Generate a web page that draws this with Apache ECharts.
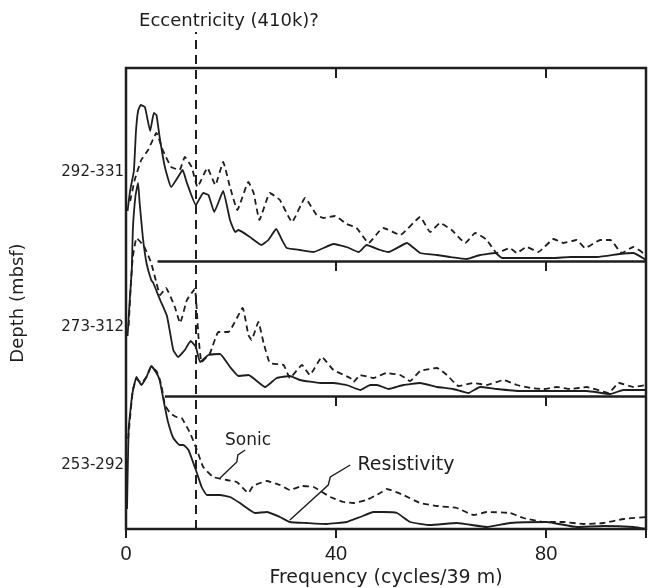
<!DOCTYPE html>
<html>
<head>
<meta charset="utf-8">
<script src="https://cdn.jsdelivr.net/npm/echarts@6/dist/echarts.min.js"></script>
<style>
html,body{margin:0;padding:0;background:#fff;}
#chart{width:648px;height:588px;}
</style>
</head>
<body>
<div id="chart"></div>
<script>
// ---- Data (frequency in cycles/39 m, relative spectral power) ----
const panelLabels = ['292-331', '273-312', '253-292'];
const xTicks = [0, 40, 80];
const eccentricityFreq = 13.3;

// Top panel 292-331
const resistivityTop = [[0.3,50],[0.8,71],[1.5,90],[1.9,130],[2.3,150],[2.8,156],[3.6,154],[4.6,130],[5.3,148],[5.8,146],[6.4,124],[7.4,94],[8.6,74],[10.5,89],[10.8,91],[11.6,78],[13.3,56],[14.7,68],[15.7,66],[16.8,49],[18.5,70],[19.8,41],[20.8,29],[21.4,31],[23.6,24],[25.8,16],[27.1,21],[28.6,32],[29.7,21],[30.6,13],[33.1,11],[35.7,9],[39.5,17],[42,14],[44.3,9],[45.8,16],[48.4,11],[50,9],[53.5,18],[56,8],[59.2,6],[61.7,4],[64.9,2],[67.4,6],[70.3,8],[71.6,3],[75,3],[81.4,3],[84.6,4],[89.7,4],[94,7],[96.6,8],[99,1]];
const sonicTop = [[0.8,60],[1.65,81],[2.9,101],[4.2,111],[5.8,128],[7,111],[8.6,94],[10.2,91],[11.2,104],[12.5,94],[13.6,74],[15.5,93],[17,76],[18.5,99],[19.8,74],[21.2,51],[23.3,79],[24.3,68],[25.4,41],[27.4,68],[29.3,61],[31.6,39],[34.1,63],[36.3,46],[37.6,43],[39.8,45],[42,37],[43.9,33],[46.2,18],[48.4,31],[49,33],[52.2,26],[56,44],[57.9,29],[59.8,38],[62,31],[64.6,18],[66.5,28],[68.7,21],[70.6,8],[73.1,13],[74.4,8],[76.3,14],[78.5,9],[81.4,22],[83.3,18],[85.8,21],[87.4,13],[90.3,21],[92.2,21],[94.4,8],[96.6,14],[99,6]];

// Middle panel 273-312
const resistivityMid = [[0.3,60],[0.7,95],[1.1,126],[1.3,166],[1.8,200],[2.3,213],[2.6,193],[3.2,159],[3.9,133],[4.8,116],[5.2,113],[6.5,96],[7.8,80],[9,46],[9.9,39],[11.2,46],[12.3,55],[13.3,49],[14.1,34],[15.7,41],[17.9,42],[19.8,29],[21.4,20],[23.3,21],[26.5,9],[28.7,18],[31.2,20],[33.1,16],[37,13],[39.5,13],[42,11],[44.6,6],[46.5,11],[47.8,11],[50,7],[52.8,11],[56,13],[59.2,9],[62.3,7],[65.2,3],[67.4,9],[70.6,7],[75,5],[81.4,5],[87.7,5],[92.2,2],[94.7,6],[99,6]];
const sonicMid = [[0.5,70],[1,119],[1.3,139],[2,158],[2.6,155],[3.5,149],[4.8,133],[5.8,113],[6.5,101],[7.6,108],[9.3,89],[10.3,73],[11.6,96],[13.1,107],[13.8,59],[14.4,34],[16,43],[17.6,64],[19.5,64],[22.2,88],[23.3,61],[23.9,56],[25.2,74],[26.2,53],[27.4,33],[30,31],[31.2,18],[33.5,31],[35,21],[37.3,39],[39.5,26],[42.7,18],[43.3,14],[44.6,21],[47.1,18],[49.6,23],[52.2,21],[54.1,15],[56,25],[59.2,28],[61.1,21],[63.3,10],[66.2,13],[68.7,11],[71.9,16],[74.4,11],[77,8],[79.5,7],[82,9],[84.6,7],[87.7,9],[91.9,3],[93.8,13],[96.6,9],[99,11]];

// Bottom panel 253-292
const resistivityBot = [[0.2,20],[0.5,100],[1.2,135],[2,152],[2.9,144],[3.9,152],[4.8,163],[5.8,156],[6.4,149],[7.4,122],[8,107],[9,91],[10.2,84],[10.9,84],[11.9,79],[13.5,56],[14.4,42],[15.4,34],[17.9,34],[19.8,32],[21.7,26],[24.6,16],[26.8,17],[29.3,12],[31.2,7],[34.4,6],[38.2,5],[42,7],[44.6,12],[47.1,17],[49,17],[51.6,16],[54.1,7],[57.9,4],[63,6],[68.7,2],[73.1,6],[80.1,7],[85.8,2],[90.9,3],[96.6,2],[99,0]];
const sonicBot = [[0.4,90],[1.3,139],[2,150],[2.9,146],[3.9,152],[4.8,162],[5.8,158],[6.4,150],[6.8,142],[7.4,124],[8.4,116],[9.6,112],[10.6,111],[12.2,96],[13.5,79],[14.7,62],[16.6,52],[19.2,49],[21.1,47],[23.3,36],[24.2,43],[26.8,48],[29.3,44],[31.2,39],[33.5,43],[35.7,42],[38.9,32],[41.4,27],[43.3,26],[45.8,29],[48.4,36],[49.6,40],[52.8,34],[56,26],[59.2,23],[63,21],[66.2,14],[68.7,17],[73.1,16],[75.7,11],[79.5,7],[83.3,7],[87.1,5],[90.9,6],[94.7,10],[99,12]];

// baseline starting frequencies for the upper two panels
const baselineStart = [6, 7.4];
// annotation arrows (frequency, power in bottom panel)
const sonicArrow = [[22.7,79],[21.3,74],[21.1,67],[17.9,51]];
const resistivityArrow = [[42.7,64],[38.9,52],[38.5,44],[31.2,9]];

// ---- Layout ----
const W = 648, H = 588;
const L = 126, R = 2;
const frameTop = 68, frameBottom = 59;
const panelBottoms = [588 - 261, 588 - 396, 59];
const panelTops = [68, 68, 32];
const ink = '#1e1e1e';
const XMAX = 99;

const chart = echarts.init(document.getElementById('chart'), null, {renderer: 'canvas'});

const gridBase = {left: L, right: R, containLabel: false, outerBoundsMode: 'none'};
const grids = [
  Object.assign({}, gridBase, {top: frameTop, bottom: frameBottom, show: true, borderColor: ink, borderWidth: 2.5, backgroundColor: 'transparent'}),
  Object.assign({}, gridBase, {top: panelTops[0], bottom: panelBottoms[0]}),
  Object.assign({}, gridBase, {top: panelTops[1], bottom: panelBottoms[1]}),
  Object.assign({}, gridBase, {top: panelTops[2], bottom: panelBottoms[2]})
];
const ymax = i => H - grids[i].top - grids[i].bottom;

const baseX = {type: 'value', min: 0, max: XMAX, interval: 40, splitLine: {show: false}};
const xAxes = [
  Object.assign({}, baseX, {gridIndex: 0, position: 'bottom', axisLine: {show: false},
    axisTick: {show: true, length: 9, lineStyle: {color: ink, width: 2}},
    axisLabel: {show: true, fontSize: 20, color: ink, fontFamily: 'Liberation Sans', margin: 15,
      customValues: xTicks},
    name: 'Frequency (cycles/39 m)', nameLocation: 'middle', nameGap: 40,
    nameTextStyle: {fontSize: 19, color: ink, fontFamily: 'DejaVu Sans'}}),
  Object.assign({}, baseX, {gridIndex: 0, position: 'top', axisLine: {show: false},
    axisTick: {show: true, inside: true, length: 10, lineStyle: {color: ink, width: 2}},
    axisLabel: {show: false}}),
  Object.assign({}, baseX, {gridIndex: 1, position: 'bottom', axisLine: {show: false},
    axisTick: {show: true, length: 10, lineStyle: {color: ink, width: 2}}, axisLabel: {show: false}}),
  Object.assign({}, baseX, {gridIndex: 2, position: 'bottom', axisLine: {show: false},
    axisTick: {show: true, length: 10, lineStyle: {color: ink, width: 2}}, axisLabel: {show: false}}),
  Object.assign({}, baseX, {gridIndex: 3, show: false})
];
const yAxes = [0,1,2,3].map(i => ({type: 'value', gridIndex: i, min: 0, max: i === 0 ? 1 : ymax(i), show: false, splitLine: {show: false}}));

function curve(data, gi, dashed, extra) {
  return Object.assign({
    type: 'line', xAxisIndex: gi + 1, yAxisIndex: gi, data: data,
    showSymbol: false, symbol: 'none', smooth: 0.12, silent: true, clip: false,
    lineStyle: {color: ink, width: 1.8, type: dashed ? [6, 4] : 'solid'}
  }, extra || {});
}
function baseline(start) {
  return {symbol: 'none', silent: true, label: {show: false},
    lineStyle: {color: ink, width: 2.5, type: 'solid'},
    data: [[{coord: [start, 0]}, {coord: [XMAX, 0]}]]};
}

const series = [
  curve(resistivityTop, 1, false, {markLine: baseline(baselineStart[0])}),
  curve(sonicTop, 1, true),
  curve(resistivityMid, 2, false, {markLine: baseline(baselineStart[1])}),
  curve(sonicMid, 2, true),
  curve(resistivityBot, 3, false, {markLine: {symbol: 'none', silent: true,
    lineStyle: {color: ink, width: 2, type: [9, 6]},
    label: {show: false},
    data: [{xAxis: eccentricityFreq}]}}),
  curve(sonicBot, 3, true),
  {type: 'lines', coordinateSystem: 'cartesian2d', xAxisIndex: 4, yAxisIndex: 3, polyline: true,
    silent: true, symbol: ['none', 'arrow'], symbolSize: 9,
    lineStyle: {color: ink, width: 1.4, opacity: 1},
    data: [{coords: sonicArrow}, {coords: resistivityArrow}]}
];

const txt = (x, y, s, opts) => Object.assign({type: 'text', x: x, y: y, silent: true,
  style: Object.assign({text: s, fill: ink, font: '15px "Liberation Sans"', textVerticalAlign: 'middle'}, opts || {})});

const graphic = [
  txt(229, 21, 'Eccentricity (410k)?', {textAlign: 'center', font: '18px "DejaVu Sans"'}),
  txt(124, 172, panelLabels[0], {textAlign: 'right', font: '15px "DejaVu Sans"'}),
  txt(124, 327, panelLabels[1], {textAlign: 'right', font: '15px "DejaVu Sans"'}),
  txt(124, 465, panelLabels[2], {textAlign: 'right', font: '15px "DejaVu Sans"'}),
  {type: 'text', x: 18, y: 303, rotation: Math.PI / 2, silent: true,
    style: {text: 'Depth (mbsf)', fill: ink, font: '18px "DejaVu Sans"', textAlign: 'center', textVerticalAlign: 'middle'}},
  txt(248, 441, 'Sonic', {textAlign: 'center', font: '17px "DejaVu Sans"'}),
  txt(406, 465, 'Resistivity', {textAlign: 'center', font: '19px "DejaVu Sans"'})
];

chart.setOption({
  animation: false,
  backgroundColor: '#fff',
  grid: grids,
  xAxis: xAxes,
  yAxis: yAxes,
  series: series,
  graphic: graphic
});
</script>
</body>
</html>
